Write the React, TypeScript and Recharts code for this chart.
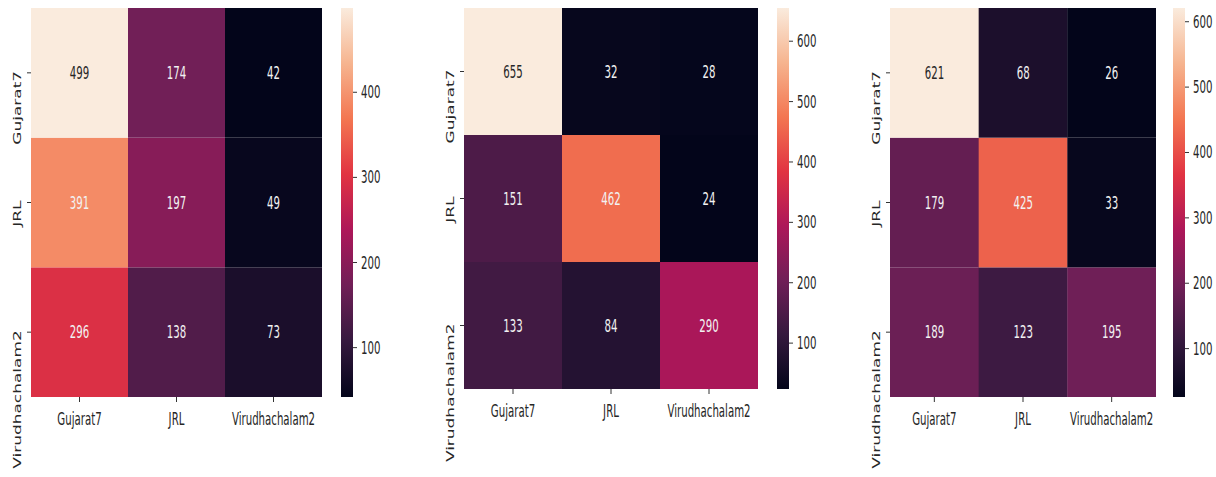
import { Bar, BarChart, XAxis, YAxis } from "recharts"

const classes = ["Gujarat7", "JRL", "Virudhachalam2"]

// rows = true class, columns = predicted class
const matrixA = [
  [499, 174, 42],
  [391, 197, 49],
  [296, 138, 73],
]
const matrixB = [
  [655, 32, 28],
  [151, 462, 24],
  [133, 84, 290],
]
const matrixC = [
  [621, 68, 26],
  [179, 425, 33],
  [189, 123, 195],
]

const ticksA = [100, 200, 300, 400]
const ticksB = [100, 200, 300, 400, 500, 600]
const ticksC = [100, 200, 300, 400, 500, 600]

// seaborn "rocket"
const rocket: [number, number, number, number][] = [
  [0, 3, 5, 26],
  [1 / 7, 53, 25, 62],
  [2 / 7, 112, 31, 87],
  [3 / 7, 173, 23, 89],
  [4 / 7, 225, 51, 66],
  [5 / 7, 243, 118, 81],
  [6 / 7, 246, 180, 143],
  [1, 250, 235, 221],
]

function rocketRgb(t: number) {
  t = Math.max(0, Math.min(1, t))
  for (let i = 1; i < rocket.length; i++) {
    if (t <= rocket[i][0]) {
      const a = rocket[i - 1], b = rocket[i]
      const f = (t - a[0]) / (b[0] - a[0])
      return [1, 2, 3].map((k) => Math.round(a[k] + (b[k] - a[k]) * f))
    }
  }
  return [250, 235, 221]
}

const rgbStr = (c: number[]) => `rgb(${c[0]},${c[1]},${c[2]})`

function textColor(c: number[]) {
  const lin = c.map((v) => {
    const s = v / 255
    return s <= 0.03928 ? s / 12.92 : Math.pow((s + 0.055) / 1.055, 2.4)
  })
  const lum = 0.2126 * lin[0] + 0.7152 * lin[1] + 0.0722 * lin[2]
  return lum > 0.408 ? "#262626" : "#f2f2f2"
}

const FONT = "DejaVu Sans"
const SQ = 0.6 // horizontal squeeze of the source image
const FS = 17

function Panel({ id, matrix, plotLeft, plotWidth, plotHeight, cbLeft, ticks }: any) {
  const flat: number[] = matrix.flat()
  const vmin = Math.min(...flat)
  const vmax = Math.max(...flat)
  const data = classes.map((c) => ({ name: c, u0: 1, u1: 1, u2: 1 }))
  const cbData = [{ name: "cb", range: [vmin, vmax] }]
  const yw = 40
  const H = 477

  const cellShape = (r: number) => (props: any) => {
    const { x, y, width, height, index } = props
    const v = matrix[r][index]
    const c = rocketRgb((v - vmin) / (vmax - vmin))
    return (
      <g>
        <rect x={x} y={y} width={width} height={height} fill={rgbStr(c)} />
        <text
          transform={`translate(${x + width / 2},${y + height / 2 + 6}) scale(${SQ},1)`}
          textAnchor="middle"
          fontFamily={FONT}
          fontSize={FS}
          fill={textColor(c)}
        >
          {v}
        </text>
      </g>
    )
  }

  const xTick = (props: any) => {
    const { x, y, payload } = props
    return (
      <text
        transform={`translate(${x},${y + 21}) scale(${SQ},1)`}
        textAnchor="middle"
        fontFamily={FONT}
        fontSize={FS}
        fill="#262626"
      >
        {payload.value}
      </text>
    )
  }

  const yTick = (props: any) => {
    const { x, y, payload } = props
    const label = classes[2 - Math.floor(payload.value)]
    return (
      <text
        transform={`translate(${x},${y - 2}) scale(${SQ},1) rotate(-90)`}
        textAnchor="end"
        fontFamily={FONT}
        fontSize={FS}
        fill="#262626"
      >
        {label}
      </text>
    )
  }

  const cbTick = (props: any) => {
    const { x, y, payload } = props
    return (
      <text
        transform={`translate(${x},${y + 6}) scale(${SQ},1)`}
        textAnchor="start"
        fontFamily={FONT}
        fontSize={FS}
        fill="#262626"
      >
        {payload.value}
      </text>
    )
  }

  const stops = rocket.map((s) => s[0])

  return (
    <>
      <svg width={0} height={0} style={{ position: "absolute" }}>
        <defs>
          <linearGradient id={id} x1="0" y1="1" x2="0" y2="0">
            {stops.map((t, i) => (
              <stop key={i} offset={t} stopColor={rgbStr(rocketRgb(t))} />
            ))}
          </linearGradient>
        </defs>
      </svg>
      <div style={{ position: "absolute", left: plotLeft - yw, top: 0 }}>
        <BarChart
          width={yw + plotWidth}
          height={H}
          data={data}
          margin={{ top: 8, right: 0, left: 0, bottom: 0 }}
          barCategoryGap={0}
          barGap={0}
        >
          <XAxis
            dataKey="name"
            height={H - 8 - plotHeight}
            axisLine={false}
            tickSize={5}
            tickMargin={2}
            tickLine={{ stroke: "#333" }}
            tick={xTick}
            interval={0}
          />
          <YAxis
            type="number"
            domain={[0, 3]}
            ticks={[0.5, 1.5, 2.5]}
            width={yw}
            axisLine={false}
            tickSize={4}
            tickMargin={6}
            tickLine={{ stroke: "#333" }}
            tick={yTick}
          />
          {[2, 1, 0].map((r) => (
            <Bar
              key={r}
              dataKey={`u${r}`}
              stackId="m"
              isAnimationActive={false}
              shape={cellShape(r)}
            />
          ))}
        </BarChart>
      </div>
      <div style={{ position: "absolute", left: cbLeft, top: 0 }}>
        <BarChart
          width={12 + 50}
          height={H}
          data={cbData}
          margin={{ top: 8, right: 0, left: 0, bottom: H - 8 - plotHeight }}
          barCategoryGap={0}
        >
          <XAxis dataKey="name" hide />
          <YAxis
            orientation="right"
            type="number"
            domain={[vmin, vmax]}
            ticks={ticks}
            width={50}
            axisLine={false}
            tickSize={4}
            tickMargin={4}
            tickLine={{ stroke: "#333" }}
            tick={cbTick}
            allowDataOverflow
          />
          <Bar dataKey="range" fill={`url(#${id})`} isAnimationActive={false} />
        </BarChart>
      </div>
    </>
  )
}

export default function App() {
  return (
    <div
      style={{
        position: "absolute",
        left: 0,
        top: 0,
        width: 1216,
        height: 477,
        background: "#fff",
        overflow: "hidden",
      }}
    >
      <Panel id="cbA" matrix={matrixA} plotLeft={31} plotWidth={291} plotHeight={389} cbLeft={341} ticks={ticksA} />
      <Panel id="cbB" matrix={matrixB} plotLeft={464} plotWidth={294} plotHeight={381} cbLeft={777} ticks={ticksB} />
      <Panel id="cbC" matrix={matrixC} plotLeft={890} plotWidth={266} plotHeight={389} cbLeft={1173} ticks={ticksC} />
    </div>
  )
}
